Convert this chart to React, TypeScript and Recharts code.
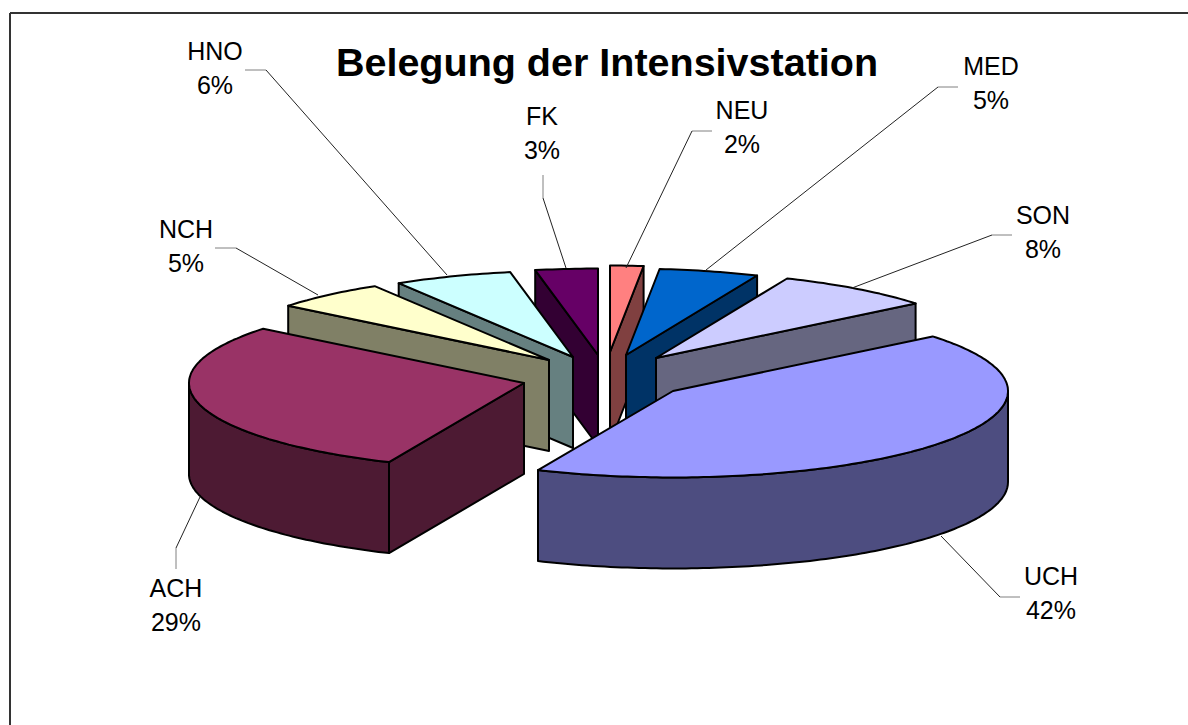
import React from "react";
import { PieChart, Pie } from "recharts";

const leftNames = ["FK", "HNO", "NCH", "ACH"];
const leftValues = [3.0, 5.71, 5.49, 29.2];
const rightNames = ["NEU", "MED", "SON", "UCH"];
const rightValues = [1.6, 4.8, 7.71, 42.49];

const topColors: Record<string, string> = {
  FK: "#660066", HNO: "#ccffff", NCH: "#ffffcc", ACH: "#993366",
  NEU: "#ff8080", MED: "#0066cc", SON: "#ccccff", UCH: "#9999ff",
};
const sideColors: Record<string, string> = {
  FK: "#330033", HNO: "#668080", NCH: "#808066", ACH: "#4d1a33",
  NEU: "#804040", MED: "#003366", SON: "#666680", UCH: "#4d4d80",
};
// label anchor and leader line of every slice
const labelLayout: Record<string, { x: number; y: number; line: number[][] }> = {
  HNO: { x: 215, y: 60, line: [[245, 70], [266, 70], [447, 275]] },
  NCH: { x: 186, y: 238, line: [[215, 248], [236, 248], [318, 295]] },
  FK: { x: 542, y: 125, line: [[543, 175], [543, 198], [566, 268]] },
  NEU: { x: 742, y: 119, line: [[712, 131], [692, 131], [626, 268]] },
  MED: { x: 991, y: 75, line: [[958, 87], [938, 87], [706, 270]] },
  SON: { x: 1043, y: 224, line: [[1012, 235], [992, 235], [852, 288]] },
  UCH: { x: 1051, y: 585, line: [[1020, 597], [1000, 597], [941, 536]] },
  ACH: { x: 176, y: 597, line: [[176, 569], [176, 548], [200, 497]] },
};
const explodeBy: Record<string, number[]> = {
  FK: [-4, -20], HNO: [-29, -18], NCH: [-53, -15], ACH: [-78, 8],
  NEU: [8, -23], MED: [24, -20], SON: [54, -17], UCH: [71, 16],
};

const CX = 602;
const CY = 375;
const RADIUS = 335;
const SQUASH = 0.258;
const DEPTH = 91;
const EDGE = 2;

function pt(ax: number, ay: number, r: number, theta: number, dz = 0) {
  const t = (theta * Math.PI) / 180;
  return [ax + r * Math.sin(t), ay - r * Math.cos(t) * SQUASH + dz];
}
function arcPoints(ax: number, ay: number, r: number, from: number, to: number, dz = 0) {
  const steps = Math.max(2, Math.ceil(Math.abs(to - from)));
  const out: number[][] = [];
  for (let i = 0; i <= steps; i++) out.push(pt(ax, ay, r, from + ((to - from) * i) / steps, dz));
  return out;
}
const toPath = (p: number[][]) =>
  "M" + p.map((q) => q[0].toFixed(1) + "," + q[1].toFixed(1)).join("L") + "Z";

function Wedge(props: any) {
  const name = props.name ?? props.payload?.name;
  const s = Math.min(props.startAngle, props.endAngle);
  const e = Math.max(props.startAngle, props.endAngle);
  let a = 90 - e;
  let b = 90 - s;
  if (a < 0) {
    a += 360;
    b += 360;
  }
  const off = explodeBy[name];
  const ax = props.cx + off[0];
  const ay = props.cy + off[1];
  const r = props.outerRadius;
  const top = [[ax, ay], ...arcPoints(ax, ay, r, a, b)];
  const faces: React.ReactNode[] = [];
  const side = sideColors[name];
  const sa = Math.sin((a * Math.PI) / 180);
  const sb = Math.sin((b * Math.PI) / 180);
  const quad = (edge: number) => {
    const p = pt(ax, ay, r, edge);
    return toPath([[ax, ay], p, [p[0], p[1] + DEPTH], [ax, ay + DEPTH]]);
  };
  const common = { fill: side, stroke: "#000", strokeWidth: EDGE, strokeLinejoin: "round" as const };
  if (sa < -1e-6) faces.push(<path key="a" d={quad(a)} {...common} />);
  if (sb > 1e-6) faces.push(<path key="b" d={quad(b)} {...common} />);
  const from = Math.max(a, 90);
  const to = Math.min(b, 270);
  if (to > from) {
    const upper = arcPoints(ax, ay, r, from, to);
    const lower = arcPoints(ax, ay, r, from, to, DEPTH).reverse();
    faces.push(<path key="rim" d={toPath([...upper, ...lower])} {...common} />);
  }
  return (
    <g>
      {faces}
      <path d={toPath(top)} fill={topColors[name]} stroke="#000" strokeWidth={EDGE} strokeLinejoin="round" />
    </g>
  );
}

function SliceLabel(props: any) {
  const name = props.name ?? props.payload?.name;
  const value = props.value ?? props.payload?.value;
  const l = labelLayout[name];
  const [p0, ...rest] = l.line;
  return (
    <g>
      <line x1={p0[0]} y1={p0[1]} x2={rest[0][0]} y2={rest[0][1]} stroke="#808080" strokeWidth={1} />
      <polyline points={rest.map((p) => p.join(",")).join(" ")} fill="none" stroke="#222" strokeWidth={1} />
      <text x={l.x} y={l.y} textAnchor="middle" fontFamily="Liberation Sans" fontSize={25} fill="#000">
        <tspan x={l.x}>{name}</tspan>
        <tspan x={l.x} dy={34}>{Math.round(value) + "%"}</tspan>
      </text>
    </g>
  );
}

const leftData = leftNames.map((name, i) => ({ name, value: leftValues[i] }));
const rightData = rightNames.map((name, i) => ({ name, value: rightValues[i] }));
const sum = (v: number[]) => v.reduce((x, y) => x + y, 0);
const total = sum(leftValues) + sum(rightValues);

export default function App() {
  return (
    <div style={{ position: "absolute", left: 0, top: 0, width: 1188, height: 725, overflow: "hidden", background: "#fff" }}>
      <PieChart width={1188} height={725} margin={{ top: 0, right: 0, bottom: 0, left: 0 }}>
        <line x1={10} y1={13} x2={1188} y2={13} stroke="#333" strokeWidth={2} />
        <line x1={10} y1={13} x2={10} y2={725} stroke="#333" strokeWidth={2} />
        <Pie
          data={leftData}
          dataKey="value"
          nameKey="name"
          cx={CX}
          cy={CY}
          outerRadius={RADIUS}
          startAngle={90}
          endAngle={90 + (sum(leftValues) / total) * 360}
          shape={Wedge}
          label={SliceLabel}
          labelLine={false}
          stroke="none"
          isAnimationActive={false}
        />
        <Pie
          data={rightData}
          dataKey="value"
          nameKey="name"
          cx={CX}
          cy={CY}
          outerRadius={RADIUS}
          startAngle={90}
          endAngle={90 - (sum(rightValues) / total) * 360}
          shape={Wedge}
          label={SliceLabel}
          labelLine={false}
          stroke="none"
          isAnimationActive={false}
        />
        <text x={607} y={76} textAnchor="middle" fontFamily="Liberation Sans" fontWeight="bold" fontSize={39.5} fill="#000">
          Belegung der Intensivstation
        </text>
      </PieChart>
    </div>
  );
}
